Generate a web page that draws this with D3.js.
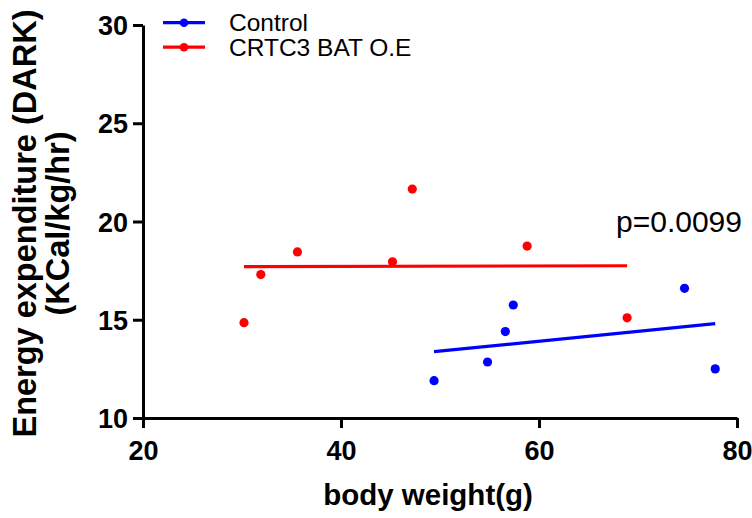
<!DOCTYPE html>
<html>
<head>
<meta charset="utf-8">
<script src="https://cdn.jsdelivr.net/npm/d3@7"></script>
<style>
  html, body { margin: 0; padding: 0; background: #fff; }
  svg { display: block; }
  text { font-family: "Liberation Sans", Arial, sans-serif; }
</style>
</head>
<body>
<svg id="chart" width="752" height="518"></svg>
<script>
// Body weight (g) vs dark-phase energy expenditure (KCal/kg/hr)
const controlWeight = [49.4, 54.8, 56.6, 57.4, 74.7, 77.8];
const controlEE     = [11.9, 12.85, 14.4, 15.75, 16.6, 12.5];
const crtcWeight    = [30.2, 31.9, 35.6, 45.2, 47.2, 58.8, 68.9];
const crtcEE        = [14.85, 17.3, 18.45, 17.95, 21.65, 18.75, 15.1];

const xTicks = [20, 40, 60, 80];
const yTicks = [10, 15, 20, 25, 30];
const seriesNames = ["Control", "CRTC3 BAT O.E"];
const seriesColors = ["#0000ff", "#ff0000"];
const pValueLabel = "p=0.0099";

const svg = d3.select("#chart");

const x = d3.scaleLinear().domain([20, 80]).range([143, 737]);
const y = d3.scaleLinear().domain([10, 30]).range([418, 25]);

// least-squares fit, drawn across the range of each group's weights
function fit(xs, ys) {
  const mx = d3.mean(xs), my = d3.mean(ys);
  let sxy = 0, sxx = 0;
  xs.forEach((v, i) => { sxy += (v - mx) * (ys[i] - my); sxx += (v - mx) * (v - mx); });
  const b = sxy / sxx, a = my - b * mx;
  const x0 = d3.min(xs), x1 = d3.max(xs);
  return [[x0, a + b * x0], [x1, a + b * x1]];
}

const groups = [
  { name: seriesNames[0], color: seriesColors[0], xs: controlWeight, ys: controlEE },
  { name: seriesNames[1], color: seriesColors[1], xs: crtcWeight, ys: crtcEE }
];

// axes
const xAxis = svg.append("g")
  .attr("transform", `translate(0,${y(10)})`)
  .call(d3.axisBottom(x).tickValues(xTicks).tickSize(10).tickSizeOuter(0).tickPadding(4));
const yAxis = svg.append("g")
  .attr("transform", `translate(${x(20)},0)`)
  .call(d3.axisLeft(y).tickValues(yTicks).tickSize(10).tickSizeOuter(0).tickPadding(5));

[xAxis, yAxis].forEach(g => {
  g.select(".domain").attr("stroke", "#000").attr("stroke-width", 3);
  g.selectAll(".tick line").attr("stroke", "#000").attr("stroke-width", 3);
  g.selectAll(".tick text")
    .attr("fill", "#000")
    .style("font-family", "'Liberation Sans', Arial, sans-serif")
    .style("font-size", "27px")
    .style("font-weight", "bold");
});
yAxis.selectAll(".tick text").attr("dy", "0.36em");
xAxis.selectAll(".tick text").attr("dy", "1.05em");

// fit lines and points
groups.forEach(g => {
  const seg = fit(g.xs, g.ys);
  svg.append("line")
    .attr("x1", x(seg[0][0])).attr("y1", y(seg[0][1]))
    .attr("x2", x(seg[1][0])).attr("y2", y(seg[1][1]))
    .attr("stroke", g.color).attr("stroke-width", 3.2);
  svg.append("g").selectAll("circle")
    .data(g.xs.map((v, i) => [v, g.ys[i]]))
    .join("circle")
    .attr("cx", d => x(d[0]))
    .attr("cy", d => y(d[1]))
    .attr("r", 4.6)
    .attr("fill", g.color);
});

// legend
const legend = svg.append("g");
groups.forEach((g, i) => {
  const ly = 22.7 + i * 24.5;
  legend.append("line")
    .attr("x1", 163).attr("x2", 205).attr("y1", ly).attr("y2", ly)
    .attr("stroke", g.color).attr("stroke-width", 3.2);
  legend.append("circle").attr("cx", 184).attr("cy", ly).attr("r", 4.3).attr("fill", g.color);
  legend.append("text")
    .attr("x", 229).attr("y", ly + 8.5)
    .style("font-size", "24.5px")
    .attr("fill", "#000")
    .text(g.name);
});

// p-value annotation
svg.append("text")
  .attr("x", 616).attr("y", 232)
  .style("font-size", "30px")
  .attr("fill", "#000")
  .text(pValueLabel);

// axis titles
svg.append("text")
  .attr("x", 428).attr("y", 505)
  .attr("text-anchor", "middle")
  .style("font-size", "29.5px")
  .style("font-weight", "bold")
  .attr("fill", "#000")
  .text("body weight(g)");

const yTitle = svg.append("g").attr("transform", "translate(0,223.5) rotate(-90)");
yTitle.append("text")
  .attr("x", 0).attr("y", 36)
  .attr("text-anchor", "middle")
  .style("font-size", "32.5px")
  .style("font-weight", "bold")
  .attr("fill", "#000")
  .text("Energy expenditure (DARK)");
yTitle.append("text")
  .attr("x", 0).attr("y", 69)
  .attr("text-anchor", "middle")
  .style("font-size", "32.5px")
  .style("font-weight", "bold")
  .attr("fill", "#000")
  .text("(KCal/kg/hr)");
</script>
</body>
</html>
